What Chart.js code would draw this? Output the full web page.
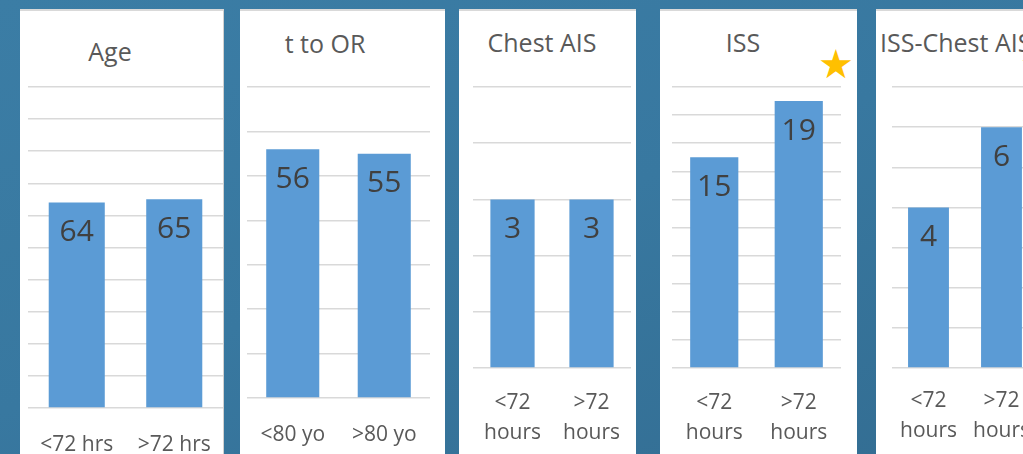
<!DOCTYPE html>
<html>
<head>
<meta charset="utf-8">
<script src="https://cdn.jsdelivr.net/npm/chart.js@4/dist/chart.umd.min.js"></script>
<style>
  html, body { margin: 0; padding: 0; }
  body {
    width: 1023px; height: 454px; overflow: hidden; position: relative;
    background: linear-gradient(160deg, #3b7da5 0%, #3878a0 50%, #336d92 100%);
    font-family: "Open Sans", sans-serif;
  }
  .panel {
    position: absolute; top: 9px; height: 460px; background: #fff;
    border-top: 2px solid #d9d9d9; box-sizing: border-box;
  }
  .title {
    position: absolute; font-size: 25px; line-height: 25px; color: #595959;
    white-space: nowrap; transform: translateX(-50%);
  }
  .star {
    position: absolute; font-family: "DejaVu Sans", sans-serif; font-size: 40px;
    line-height: 40px; color: #ffc000; transform: translate(-50%, -50%);
  }
  canvas { position: absolute; }
</style>
</head>
<body>
<div class="panel" style="left:20px;width:204px;border-right:1px solid #d0d0d0"></div>
<div class="panel" style="left:240px;width:205px"></div>
<div class="panel" style="left:459px;width:177px"></div>
<div class="panel" style="left:660px;width:197px"></div>
<div class="panel" style="left:876px;width:200px"></div>

<div class="title" style="left:110px;top:39px">Age</div>
<div class="title" style="left:325px;top:31px">t to OR</div>
<div class="title" style="left:542px;top:30px">Chest AIS</div>
<div class="title" style="left:743px;top:30px">ISS</div>
<div class="title" style="left:880px;top:30px;transform:none">ISS-Chest AIS</div>
<div class="star" style="left:836px;top:64px">★</div>
<div class="star" style="left:1038px;top:64px">★</div>

<canvas id="age" style="left:28px;top:85px" width="195" height="369"></canvas>
<canvas id="tor" style="left:247px;top:85px" width="183" height="369"></canvas>
<canvas id="chest" style="left:473px;top:85px" width="158" height="369"></canvas>
<canvas id="iss" style="left:672px;top:85px" width="169" height="369"></canvas>
<canvas id="isschest" style="left:892px;top:85px" width="146" height="369"></canvas>

<script>
// values
const ageLabels = ["<72 hrs", ">72 hrs"];
const ageValues = [64, 65];
const torLabels = ["<80 yo", ">80 yo"];
const torValues = [56, 55];
const hourLabels = [["<72", "hours"], [">72", "hours"]];
const chestValues = [3, 3];
const issValues = [15, 19];
const issChestValues = [4, 6];

// y axis ranges per chart: [max, step]
const ageAxis = [100, 10];
const torAxis = [70, 10];
const chestAxis = [5, 1];
const issAxis = [20, 2];
const issChestAxis = [7, 1];

const valueLabels = {
  id: "valueLabels",
  afterDatasetsDraw(chart) {
    const ctx = chart.ctx;
    const meta = chart.getDatasetMeta(0);
    ctx.save();
    ctx.font = "30px 'Open Sans'";
    ctx.fillStyle = "#404040";
    ctx.textAlign = "center";
    ctx.textBaseline = "middle";
    meta.data.forEach((bar, i) => {
      ctx.fillText(chart.data.datasets[0].data[i], bar.x, bar.y + 30);
    });
    ctx.restore();
  },
};

const makeChart = (id, labels, values, axis, baseline, tickPad, barPct) => {
  const ctx = document.getElementById(id);
  return new Chart(ctx, {
    type: "bar",
    data: {
      labels: labels,
      datasets: [{ data: values, backgroundColor: "#5b9bd5", barPercentage: barPct, categoryPercentage: 1 }],
    },
    options: {
      responsive: false,
      animation: false,
      layout: { padding: { top: 2, left: 0, right: 0, bottom: 0 } },
      plugins: { legend: { display: false }, tooltip: { enabled: false } },
      scales: {
        x: {
          grid: { display: false },
          border: { display: false },
          ticks: {
            color: "#595959",
            padding: tickPad,
            maxRotation: 0,
            autoSkip: false,
            font: { family: "Open Sans", size: 21, lineHeight: 1.43 },
          },
          afterFit: (s) => {
            s.height = 454 - baseline;
            s.paddingLeft = 0;
            s.paddingRight = 0;
          },
        },
        y: {
          min: 0,
          max: axis[0],
          ticks: { display: false, stepSize: axis[1] },
          grid: { color: "#d9d9d9", lineWidth: 1.5, drawTicks: false },
          border: { display: false },
          afterFit: (s) => { s.width = 0; },
        },
      },
    },
    plugins: [valueLabels],
  });
};

makeChart("age", ageLabels, ageValues, ageAxis, 408, 14, 0.575);
makeChart("tor", torLabels, torValues, torAxis, 398, 14, 0.58);
makeChart("chest", hourLabels, chestValues, chestAxis, 368, 12, 0.56);
makeChart("iss", hourLabels, issValues, issAxis, 368, 12, 0.57);
makeChart("isschest", hourLabels, issChestValues, issChestAxis, 368, 10, 0.56);
</script>
</body>
</html>
